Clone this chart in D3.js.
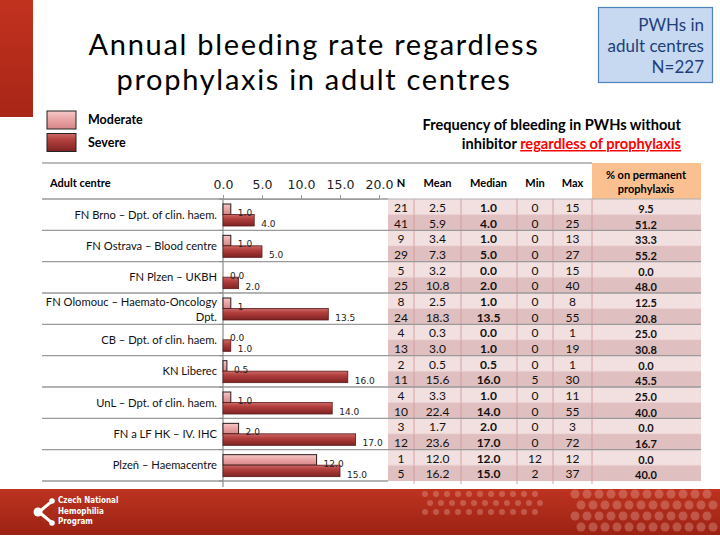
<!DOCTYPE html>
<html>
<head>
<meta charset="utf-8">
<script src="https://cdn.jsdelivr.net/npm/d3@7"></script>
<style>
  html, body { margin: 0; padding: 0; background: #fff; }
  svg { display: block; }
</style>
</head>
<body>
<div id="chart"></div>
<script>
// Centres and annual bleeding rate (median) per severity
const centres = [
    "FN Brno – Dpt. of clin. haem.",
    "FN Ostrava – Blood centre",
    "FN Plzen – UKBH",
    "FN Olomouc – Haemato-Oncology Dpt.",
    "CB – Dpt. of clin. haem.",
    "KN Liberec",
    "UnL – Dpt. of clin. haem.",
    "FN a LF HK – IV. IHC",
    "Plzeň – Haemacentre"
];
const moderateRate = [1.0, 1.0, 0.0, 1, 0.0, 0.5, 1.0, 2.0, 12.0];
const moderateRateLabel = ["1.0", "1.0", "0.0", "1", "0.0", "0.5", "1.0", "2.0", "12.0"];
const severeRate = [4.0, 5.0, 2.0, 13.5, 1.0, 16.0, 14.0, 17.0, 15.0];

// Table columns, moderate rows
const modN = [21, 9, 5, 8, 4, 2, 4, 3, 1];
const modMean = [2.5, 3.4, 3.2, 2.5, 0.3, 0.5, 3.3, 1.7, 12.0];
const modMedian = [1.0, 1.0, 0.0, 1.0, 0.0, 0.5, 1.0, 2.0, 12.0];
const modMin = [0, 0, 0, 0, 0, 0, 0, 0, 12];
const modMax = [15, 13, 15, 8, 1, 1, 11, 3, 12];
const modPct = [9.5, 33.3, 0.0, 12.5, 25.0, 0.0, 25.0, 0.0, 0.0];

// Table columns, severe rows
const sevN = [41, 29, 25, 24, 13, 11, 10, 12, 5];
const sevMean = [5.9, 7.3, 10.8, 18.3, 3.0, 15.6, 22.4, 23.6, 16.2];
const sevMedian = [4.0, 5.0, 2.0, 13.5, 1.0, 16.0, 14.0, 17.0, 15.0];
const sevMin = [0, 0, 0, 0, 0, 5, 0, 0, 2];
const sevMax = [25, 27, 40, 55, 19, 30, 55, 72, 37];
const sevPct = [51.2, 55.2, 48.0, 20.8, 30.8, 45.5, 40.0, 16.7, 40.0];

const xTicks = [0, 5, 10, 15, 20];
const tableHeaders = ["N", "Mean", "Median", "Min", "Max"];

const width = 720, height = 540;
const sans = "Lato, 'Open Sans', sans-serif";
const dejavu = "'DejaVu Sans', Verdana, sans-serif";

const svg = d3.select("#chart").append("svg")
    .attr("width", width)
    .attr("height", height);

const defs = svg.append("defs");
function vGrad(id, stops) {
    const g = defs.append("linearGradient").attr("id", id)
        .attr("x1", 0).attr("y1", 0).attr("x2", 0).attr("y2", 1);
    stops.forEach(s => g.append("stop").attr("offset", s[0]).attr("stop-color", s[1]));
}
vGrad("gMod", [["0%", "#f6c9c9"], ["45%", "#eaa6a6"], ["100%", "#d68787"]]);
vGrad("gSev", [["0%", "#cc6a68"], ["35%", "#b3403e"], ["100%", "#7f2222"]]);
vGrad("gRed", [["0%", "#c2321f"], ["100%", "#a82617"]]);
vGrad("gFoot", [["0%", "#bd3320"], ["100%", "#9c2214"]]);

// Slide decorations
svg.append("rect").attr("x", 0).attr("y", 0).attr("width", 33).attr("height", 117)
    .attr("fill", "url(#gRed)");

const footer = svg.append("g");
footer.append("rect").attr("x", 0).attr("y", 489).attr("width", width).attr("height", 46)
    .attr("fill", "url(#gFoot)");
// molecule-like dot pattern
const dots = footer.append("g").attr("fill", "#f4c0b4").attr("opacity", 0.3);
d3.range(0, 11).forEach(i => {
    d3.range(0, 3).forEach(j => {
        const cx = 425 + i * 11 + (j % 2) * 5;
        const cy = 494 + j * 9;
        dots.append("circle").attr("cx", cx).attr("cy", cy).attr("r", 3);
    });
});
d3.range(0, 12).forEach(i => {
    d3.range(0, 4).forEach(j => {
        const cx = 575 + i * 12 + (j % 2) * 6;
        const cy = 494 + j * 11;
        dots.append("circle").attr("cx", cx).attr("cy", cy).attr("r", 4.5);
    });
});
// logo
const logo = footer.append("g").attr("fill", "#fff").attr("stroke", "#fff");
logo.append("line").attr("x1", 39).attr("y1", 512).attr("x2", 51).attr("y2", 502).attr("stroke-width", 3);
logo.append("line").attr("x1", 39).attr("y1", 512).attr("x2", 51).attr("y2", 522).attr("stroke-width", 3);
logo.append("circle").attr("cx", 38).attr("cy", 512).attr("r", 4.5).attr("stroke", "none");
logo.append("circle").attr("cx", 52).attr("cy", 501).attr("r", 2.8).attr("stroke", "none");
logo.append("circle").attr("cx", 52).attr("cy", 523).attr("r", 2.8).attr("stroke", "none");
footer.append("g").selectAll("text")
    .data(["Czech National", "Hemophilia", "Program"])
    .join("text")
    .attr("x", 58)
    .attr("y", (d, i) => 503 + i * 10.5)
    .attr("font-family", "'DejaVu Sans Condensed', 'DejaVu Sans', sans-serif")
    .attr("font-stretch", "condensed")
    .attr("font-size", 8)
    .attr("font-weight", "bold")
    .attr("fill", "#fff")
    .text(d => d);

// Title
svg.append("g").selectAll("text")
    .data(["Annual bleeding rate regardless", "prophylaxis in adult centres"])
    .join("text")
    .attr("x", 314)
    .attr("y", (d, i) => 55 + i * 35.2)
    .attr("text-anchor", "middle")
    .attr("font-family", sans)
    .attr("font-size", 29)
    .attr("letter-spacing", 1.7)
    .attr("fill", "#000")
    .text(d => d);

// N box
svg.append("rect").attr("x", 598.5).attr("y", 7.5).attr("width", 114).attr("height", 75)
    .attr("fill", "#c6d9f1").attr("stroke", "#4f81bd").attr("stroke-width", 1.2);
svg.append("g").selectAll("text")
    .data(["PWHs in", "adult centres", "N=227"])
    .join("text")
    .attr("x", 704)
    .attr("y", (d, i) => 31 + i * 21)
    .attr("text-anchor", "end")
    .attr("font-family", sans)
    .attr("font-size", 17)
    .attr("fill", "#1f3f7a")
    .text(d => d);

// Legend
const legend = svg.append("g");
[["Moderate", "url(#gMod)"], ["Severe", "url(#gSev)"]].forEach((d, i) => {
    legend.append("rect").attr("x", 47).attr("y", 111 + i * 22.5)
        .attr("width", 29).attr("height", 18)
        .attr("fill", d[1]).attr("stroke", "#222").attr("stroke-width", 1);
    legend.append("text").attr("x", 88).attr("y", 124 + i * 23)
        .attr("font-family", sans).attr("font-size", 12.5).attr("font-weight", "bold")
        .text(d[0]);
});

// Subtitle
const sub = svg.append("g").attr("font-family", sans).attr("font-size", 14.6).attr("font-weight", "bold");
sub.append("text").attr("x", 681).attr("y", 130).attr("text-anchor", "end")
    .text("Frequency of bleeding in PWHs without");
const sub2 = sub.append("text").attr("x", 681).attr("y", 149).attr("text-anchor", "end");
sub2.append("tspan").text("inhibitor ");
sub2.append("tspan").attr("fill", "#ff0000").attr("text-decoration", "underline")
    .text("regardless of prophylaxis");

// Scales
const x = d3.scaleLinear().domain([0, 20]).range([223, 379]);
const y = d3.scaleBand().domain(centres).range([199, 481]).paddingInner(0).paddingOuter(0);
const bh = y.bandwidth();

// Table column geometry
const colEdges = [388, 414, 461, 517, 553, 592, 701];
const colCenters = [401, 437.5, 488.5, 535, 572.5, 646];

// Table cell backgrounds
const rows = [];
centres.forEach((c, i) => {
    rows.push({ c, sub: 0, vals: [modN[i], modMean[i], modMedian[i], modMin[i], modMax[i], modPct[i]] });
    rows.push({ c, sub: 1, vals: [sevN[i], sevMean[i], sevMedian[i], sevMin[i], sevMax[i], sevPct[i]] });
});
const table = svg.append("g");
table.selectAll("rect.cell")
    .data(rows)
    .join("rect")
    .attr("class", "cell")
    .attr("x", colEdges[0])
    .attr("y", d => y(d.c) + d.sub * bh / 2)
    .attr("width", colEdges[6] - colEdges[0])
    .attr("height", bh / 2)
    .attr("fill", d => d.sub === 0 ? "#f2dfdf" : "#dfbfbf");

// header orange cell
svg.append("rect").attr("x", 592).attr("y", 163).attr("width", 109).attr("height", 36)
    .attr("fill", "#fac090");

// vertical column lines
table.selectAll("line.col")
    .data(colEdges.slice(1, 6))
    .join("line")
    .attr("class", "col")
    .attr("x1", d => d).attr("x2", d => d)
    .attr("y1", 199).attr("y2", 484)
    .attr("stroke", "#d59a9a").attr("stroke-width", 0.9);

// horizontal lines between sub rows
table.selectAll("line.sub")
    .data(centres)
    .join("line")
    .attr("class", "sub")
    .attr("x1", colEdges[0]).attr("x2", colEdges[6])
    .attr("y1", d => y(d) + bh / 2).attr("y2", d => y(d) + bh / 2)
    .attr("stroke", "#e8c8c8").attr("stroke-width", 0.6);

// Row separators
const sepYs = centres.map(c => y(c)).concat([y.range()[1]]);
svg.append("g").selectAll("line")
    .data(sepYs)
    .join("line")
    .attr("x1", 42).attr("x2", (d, i) => i === 0 ? 388 : (i === sepYs.length - 1 ? 388 : 701))
    .attr("y1", d => d).attr("y2", d => d)
    .attr("stroke", "#9a9a9a").attr("stroke-width", 1.3);
svg.append("line").attr("x1", 388).attr("x2", 701).attr("y1", 199).attr("y2", 199)
    .attr("stroke", "#b0b0b0").attr("stroke-width", 1);
svg.append("line").attr("x1", 42).attr("x2", 592).attr("y1", 163).attr("y2", 163)
    .attr("stroke", "#a6a6a6").attr("stroke-width", 1.5);

// Header texts
svg.append("text").attr("x", 50).attr("y", 187)
    .attr("font-family", sans).attr("font-size", 11).attr("font-weight", "bold")
    .text("Adult centre");
svg.append("g").selectAll("text")
    .data(tableHeaders)
    .join("text")
    .attr("x", (d, i) => colCenters[i])
    .attr("y", 187)
    .attr("text-anchor", "middle")
    .attr("font-family", sans).attr("font-size", 11).attr("font-weight", "bold")
    .text(d => d);
svg.append("g").selectAll("text")
    .data(["% on permanent", "prophylaxis"])
    .join("text")
    .attr("x", colCenters[5])
    .attr("y", (d, i) => 179 + i * 14)
    .attr("text-anchor", "middle")
    .attr("font-family", sans).attr("font-size", 11).attr("font-weight", "bold")
    .text(d => d);

// Table values
const f1 = d3.format(".1f");
const colFormat = [d => d, f1, f1, d => d, d => d, f1];
rows.forEach(r => {
    r.vals.forEach((v, j) => {
        table.append("text")
            .attr("x", colCenters[j])
            .attr("y", y(r.c) + r.sub * bh / 2 + (j === 5 ? 14 : 13))
            .attr("text-anchor", "middle")
            .attr("font-family", sans)
            .attr("font-size", j === 5 ? 11 : 12)
            .attr("font-weight", (j === 2 || j === 5) ? "bold" : "normal")
            .attr("fill", "#111")
            .text(colFormat[j](v));
    });
});

// X axis on top
const xAxis = svg.append("g")
    .attr("transform", "translate(0,199)")
    .call(d3.axisTop(x).tickValues(xTicks).tickFormat(f1).tickSize(4).tickPadding(6).tickSizeOuter(0));
xAxis.select(".domain").attr("stroke", "#9a9a9a");
xAxis.selectAll(".tick line").attr("stroke", "#9a9a9a");
xAxis.selectAll(".tick text")
    .attr("font-family", dejavu).attr("font-size", 12.5).attr("fill", "#222");

// Y axis line
svg.append("line").attr("x1", 223).attr("x2", 223).attr("y1", 199).attr("y2", 487)
    .attr("stroke", "#8a8a8a").attr("stroke-width", 1.2);
svg.append("g").selectAll("line")
    .data(sepYs)
    .join("line")
    .attr("x1", 219).attr("x2", 223)
    .attr("y1", d => d).attr("y2", d => d)
    .attr("stroke", "#8a8a8a");

// Category labels
const catLabels = svg.append("g")
    .attr("font-family", sans).attr("font-size", 11.2).attr("fill", "#111")
    .attr("text-anchor", "end");
centres.forEach(c => {
    const mid = y(c) + bh / 2;
    if (c.startsWith("FN Olomouc")) {
        catLabels.append("text").attr("x", 217).attr("y", mid - 3).text("FN Olomouc – Haemato-Oncology");
        catLabels.append("text").attr("x", 217).attr("y", mid + 12).text("Dpt.");
    } else {
        catLabels.append("text").attr("x", 217).attr("y", mid + 4).text(c);
    }
});

// Bars
const bars = svg.append("g");
bars.selectAll("rect.mod")
    .data(centres)
    .join("rect")
    .attr("class", "mod")
    .attr("x", x(0))
    .attr("y", d => y(d) + 5)
    .attr("width", (d, i) => x(moderateRate[i]) - x(0))
    .attr("height", 10.5)
    .attr("fill", "url(#gMod)")
    .attr("stroke", (d, i) => moderateRate[i] > 0 ? "#2a1a1a" : "none")
    .attr("stroke-width", 1);
bars.selectAll("rect.sev")
    .data(centres)
    .join("rect")
    .attr("class", "sev")
    .attr("x", x(0))
    .attr("y", d => y(d) + 15.5)
    .attr("width", (d, i) => x(severeRate[i]) - x(0))
    .attr("height", 11.5)
    .attr("fill", "url(#gSev)")
    .attr("stroke", "#5a1a1a")
    .attr("stroke-width", 0.8);

// Value labels
const vlab = svg.append("g").attr("font-family", dejavu).attr("font-size", 9).attr("fill", "#222");
vlab.selectAll("text.mod")
    .data(centres)
    .join("text")
    .attr("class", "mod")
    .attr("x", (d, i) => x(moderateRate[i]) + 7)
    .attr("y", d => y(d) + 17)
    .text((d, i) => moderateRateLabel[i]);
vlab.selectAll("text.sev")
    .data(centres)
    .join("text")
    .attr("class", "sev")
    .attr("x", (d, i) => x(severeRate[i]) + 7)
    .attr("y", d => y(d) + 28)
    .text((d, i) => f1(severeRate[i]));
</script>
</body>
</html>
